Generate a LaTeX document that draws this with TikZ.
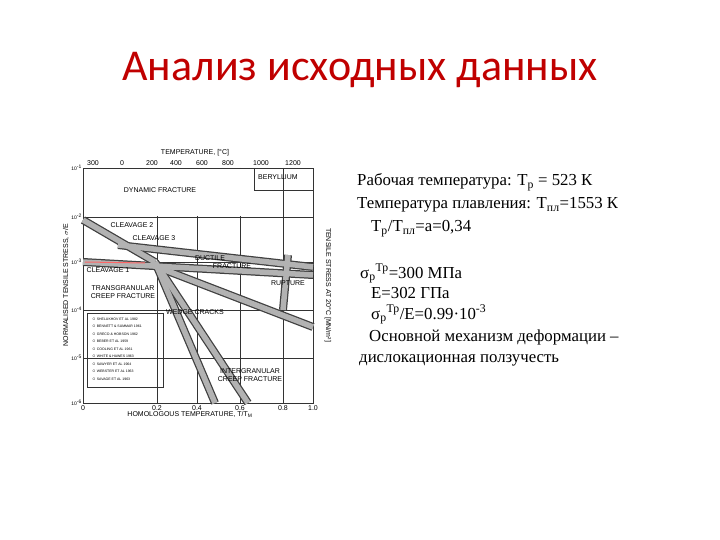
\documentclass[tikz,border=0pt]{standalone}
\usepackage{fontspec}
\setmainfont{Liberation Serif}
\newfontfamily\titlefont{Carlito}
\newfontfamily\chartfont{Liberation Sans}
\definecolor{titlered}{HTML}{C00000}
\begin{document}
\begin{tikzpicture}[x=1pt,y=-1pt,
  band/.style={line width=8pt,draw=black!75,line cap=butt},
  bandin/.style={line width=5.5pt,draw=black!30,line cap=butt},
  grid/.style={draw=black!80,line width=0.5pt},
  info/.style={anchor=base west,font=\fontsize{16.8}{19}\selectfont,inner sep=0pt},
  lab/.style={font=\chartfont\fontsize{7}{8}\selectfont,inner sep=0pt},
  tiny/.style={font=\chartfont\fontsize{3.5}{4}\selectfont,inner sep=0pt,anchor=west}]
\useasboundingbox (0,0) rectangle (720,540);
\node[font=\titlefont\fontsize{44}{48}\selectfont,text=titlered] (title) at (360,70) {Анализ исходных данных};
% chart frame
\draw[grid,line width=0.8pt] (83,168) rectangle (313,403);
\foreach \y in {217,262,310,358} \draw[grid] (83,\y) -- (313,\y);
\foreach \x in {157,197,240,283} \draw[grid] (\x,168) -- (\x,403);
\fill[white] (84,169) rectangle (282,216);
\draw[grid] (254,168) -- (254,190) -- (313,190);
% bands
\foreach \a/\b in {{(83,220)}/{(155,262)},{(118,245)}/{(313,267)},{(83,262)}/{(313,275)},{(152,265)}/{(313,327)},{(155,262)}/{(248,403)},{(155,262)}/{(215,403)},{(288,255)}/{(283,310)}}{
  \draw[band] \a -- \b;}
\foreach \a/\b in {{(83,220)}/{(155,262)},{(118,245)}/{(313,267)},{(83,262)}/{(313,275)},{(152,265)}/{(313,327)},{(155,262)}/{(248,403)},{(155,262)}/{(215,403)},{(288,255)}/{(283,310)}}{
  \draw[bandin] \a -- \b;}
\draw[red!60,line width=1pt] (85,262) -- (145,263);
% chart labels
\node[lab] (t1) at (195,153) {TEMPERATURE, [°C]};
\node[lab] (t0) at (93,163) {300}; \node[lab] (t2) at (122,163) {0};
\node[lab] (t3) at (152,163) {200}; \node[lab] (t4) at (176,163) {400};
\node[lab] (t5) at (202,163) {600}; \node[lab] (t6) at (228,163) {800};
\node[lab] (t7) at (261,163) {1000}; \node[lab] (t8) at (293,163) {1200};
\node[lab,anchor=west] (be) at (258,177) {BERYLLIUM};
\node[lab] (dyn) at (160,190) {DYNAMIC FRACTURE};
\node[lab] (c2) at (132,225) {CLEAVAGE 2};
\node[lab] (c3) at (154,238) {CLEAVAGE 3};
\node[lab] (c1) at (108,270) {CLEAVAGE 1};
\node[lab,align=center] (tr) at (123,292) {TRANSGRANULAR\\CREEP FRACTURE};
\node[lab] (du) at (210,258) {DUCTILE};
\node[lab] (fr) at (232,266) {FRACTURE};
\node[lab] (ru) at (288,283) {RUPTURE};
\node[lab] (wd) at (195,312) {WEDGE CRACKS};
\node[lab,align=center] (ig) at (250,375) {INTERGRANULAR\\CREEP FRACTURE};
\node[lab] (hx) at (190,414) {HOMOLOGOUS TEMPERATURE, T/T\textsubscript{M}};
\node[lab] (b0) at (83,408) {0}; \node[lab] (b2) at (157,408) {0.2};
\node[lab] (b4) at (197,408) {0.4}; \node[lab] (b6) at (240,408) {0.6};
\node[lab] (b8) at (283,408) {0.8}; \node[lab] (b1) at (313,408) {1.0};
\node[lab,rotate=90] (ly) at (66,285) {NORMALISED TENSILE STRESS, $\sigma$/E};
\node[lab,rotate=-90] (ry) at (328,285) {TENSILE STRESS AT 20°C [MN/m²]};
\foreach \y/\e in {168/-1,217/-2,262/-3,310/-4,358/-5,403/-6}
  \node[lab,anchor=east,font=\chartfont\fontsize{5}{6}\selectfont] at (82,\y) {10\textsuperscript{\e}};
% legend
\draw[grid] (87,313) rectangle (163,387);
\foreach \i/\t in {0/SHELUKHOV ET AL 1982,1/BENNETT \& SUMMAR 1961,2/GRECO \& HOBSON 1962,3/BEBER ET AL 1959,4/COOLING ET AL 1961,5/WHITE \& HAWES 1963,6/SAWYER ET AL 1964,7/WEBSTER ET AL 1963,8/SAVAGE ET AL 1963}
  \node[tiny] at (92,{319+\i*7.5}) {$\circ$\ \t};
% info text
\node[info] (l1) at (357,186) {Рабочая температура: T\textsubscript{р} = 523 К};
\node[info] (l2) at (357,209) {Температура плавления: T\textsubscript{пл}=1553 К};
\node[info] (l3) at (371,232) {T\textsubscript{р}/T\textsubscript{пл}=a=0,34};
\node[info] (l4) at (360,278) {σ\textsubscript{р}\textsuperscript{Тр}=300 МПа};
\node[info] (l5) at (371,298) {E=302 ГПа};
\node[info] (l6) at (371,319) {σ\textsubscript{р}\textsuperscript{Тр}/E=0.99·10\textsuperscript{-3}};
\node[info] (l7) at (369,341) {Основной механизм деформации –};
\node[info] (l8) at (359,362) {дислокационная ползучесть};
\end{tikzpicture}
\end{document}
